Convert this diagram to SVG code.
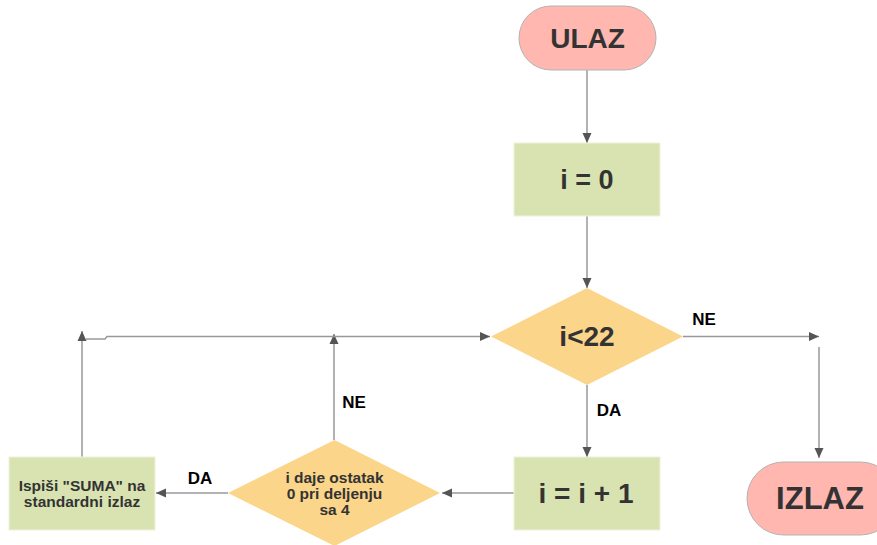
<svg xmlns="http://www.w3.org/2000/svg" width="877" height="545" viewBox="0 0 877 545">
<defs>
<marker id="arr" viewBox="0 0 10 10" refX="10" refY="5" markerWidth="10" markerHeight="10" markerUnits="userSpaceOnUse" orient="auto">
<path d="M0,0.5 L10,5 L0,9.5 Z" fill="#555"/>
</marker>
<style>
.c{fill:none;stroke:#999;stroke-width:1.5;marker-end:url(#arr)}
.p{fill:none;stroke:#999;stroke-width:1.5}
.term{fill:#ffb7b0;stroke:#b3b3b3;stroke-width:1}
.proc{fill:#d9e3b1;stroke:#eef2dc;stroke-width:1}
.dec{fill:#fbd58a}
.big{font-family:"Liberation Sans",Arial,sans-serif;font-weight:bold;fill:#333;text-anchor:middle}
.lbl{font-family:"Liberation Sans",Arial,sans-serif;font-weight:bold;font-size:17px;fill:#000;text-anchor:middle}
.sm{font-family:"Liberation Sans",Arial,sans-serif;font-weight:bold;font-size:15.5px;fill:#333;text-anchor:middle}
</style>
</defs>
<rect width="877" height="545" fill="#fff"/>
<g id="connectors">
<path class="c" d="M587,70 V143"/>
<path class="c" d="M587,216 V288"/>
<path class="c" d="M683,336.5 H819"/>
<path class="c" d="M819,347 V458"/>
<path class="c" d="M587,385 V457"/>
<path class="c" d="M514,493 H442"/>
<path class="c" d="M228,493 H156"/>
<path class="c" d="M334,440 V334"/>
<path class="c" d="M82,457 V331"/>
<path class="c" d="M86,339 H105 L107,336.5 H490"/>
</g>
<g id="labels">
<text class="lbl" x="704" y="325">NE</text>
<text class="lbl" x="609" y="416">DA</text>
<text class="lbl" x="354" y="408">NE</text>
<text class="lbl" x="200" y="484">DA</text>
</g>
<g id="ulaz">
<rect class="term" x="519" y="6" width="137" height="64" rx="32" ry="32"/>
<text class="big" x="587.5" y="48" font-size="28">ULAZ</text>
</g>
<g id="init">
<rect class="proc" x="514" y="143" width="146" height="73"/>
<text class="big" x="587" y="189" font-size="27">i = 0</text>
</g>
<g id="cond">
<polygon class="dec" points="587,288 683,336.5 587,385 491,336.5"/>
<text class="big" x="587" y="346" font-size="28">i&lt;22</text>
</g>
<g id="incr">
<rect class="proc" x="514" y="457" width="146" height="73"/>
<text class="big" x="586" y="503" font-size="28">i = i + 1</text>
</g>
<g id="mod">
<polygon class="dec" points="334.5,440 440,493 334.5,546 228,493"/>
<text class="sm" x="334.5" y="483">i daje ostatak</text>
<text class="sm" x="334.5" y="499">0 pri deljenju</text>
<text class="sm" x="334.5" y="515">sa 4</text>
</g>
<g id="ispis">
<rect class="proc" x="9" y="457" width="146" height="73"/>
<text class="sm" x="82" y="491">Ispiši "SUMA" na</text>
<text class="sm" x="82" y="507">standardni izlaz</text>
</g>
<g id="izlaz">
<rect class="term" x="747" y="462" width="150" height="73" rx="36.5" ry="36.5" stroke="none"/>
<text class="big" x="820" y="509" font-size="31">IZLAZ</text>
</g>
</svg>
